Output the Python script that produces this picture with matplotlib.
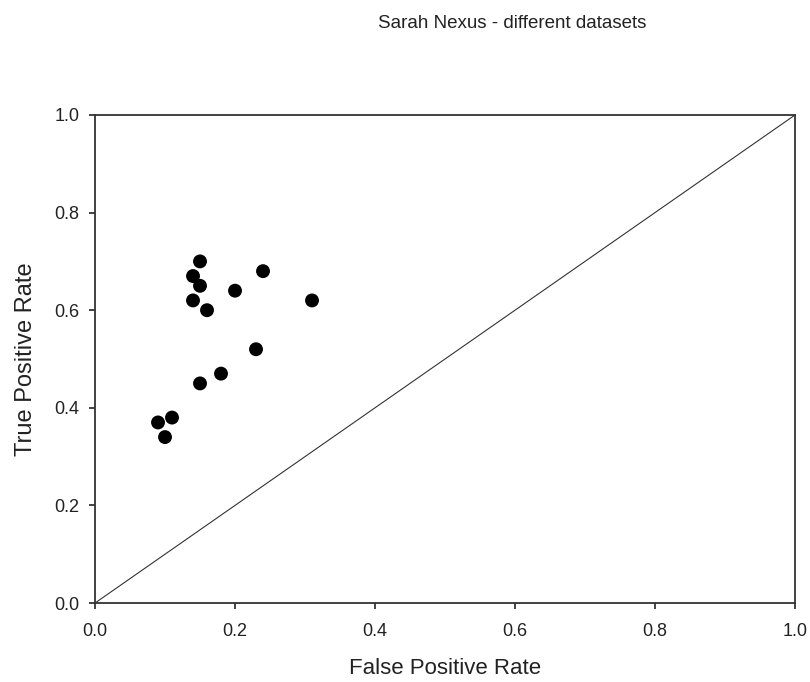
import matplotlib.pyplot as plt

plt.rcParams['font.family'] = ['Liberation Sans', 'DejaVu Sans']

# false / true positive rates per dataset
fpr = [0.15, 0.14, 0.15, 0.24, 0.20, 0.31, 0.14, 0.16, 0.23, 0.18, 0.15, 0.11, 0.09, 0.10]
tpr = [0.70, 0.67, 0.65, 0.68, 0.64, 0.62, 0.62, 0.60, 0.52, 0.47, 0.45, 0.38, 0.37, 0.34]
ticks = [0.0, 0.2, 0.4, 0.6, 0.8, 1.0]

fig = plt.figure(figsize=(8.1, 6.82), dpi=100)
ax = fig.add_axes([0.1173, 0.1158, 0.8642, 0.7156])

# chance line
ax.plot([0, 1], [0, 1], color='#333333', lw=0.8, zorder=1)
ax.scatter(fpr, tpr, s=100, color='black', edgecolors='none', zorder=3, clip_on=False)

ax.set_xlim(0, 1)
ax.set_ylim(0, 1)
ax.set_xticks(ticks)
ax.set_yticks(ticks)
ax.xaxis.set_major_formatter(plt.FuncFormatter('{:.1f}'.format))
ax.yaxis.set_major_formatter(plt.FuncFormatter('{:.1f}'.format))
ax.tick_params(axis='both', direction='out', length=4.5, width=1.2, labelsize=13,
               colors='#222222', top=False, right=False)
ax.tick_params(axis='x', pad=10)
ax.tick_params(axis='y', pad=6.5)
for sp in ax.spines.values():
    sp.set_linewidth(1.3)
    sp.set_color('#333333')

ax.set_xlabel('False Positive Rate', fontsize=16, labelpad=13, color='#222222')
ax.set_ylabel('True Positive Rate', fontsize=17, labelpad=13, color='#222222')
fig.text(0.632, 0.966, 'Sarah Nexus - different datasets', ha='center', va='center',
         fontsize=13.5, color='#222222')

fig.savefig('out.png', dpi=100)
